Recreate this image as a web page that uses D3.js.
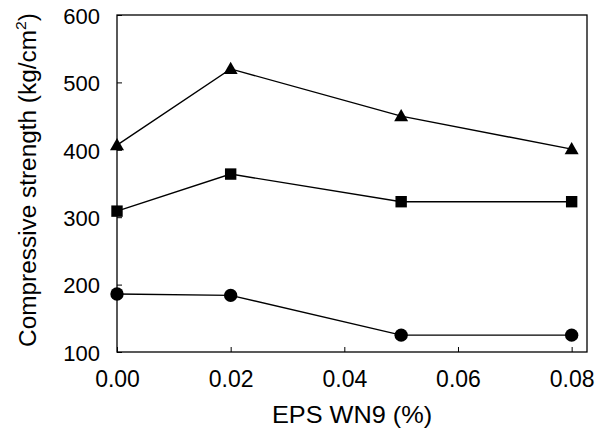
<!DOCTYPE html>
<html>
<head>
<meta charset="utf-8">
<script src="https://cdn.jsdelivr.net/npm/d3@7"></script>
<style>
  body { margin: 0; background: #fff; }
  text { font-family: "Liberation Sans", Arial, sans-serif; fill: #000; }
</style>
</head>
<body>
<script>
const w = 602;
const h = 430;
const margin = {left: 117, right: 15, top: 15, bottom: 78};

// data
const xValues = [0.00, 0.02, 0.05, 0.08];
const triangleSeries = [407, 520, 450, 401];
const squareSeries = [309, 364, 323, 323];
const circleSeries = [186, 184, 125, 125];
const xTicks = [0.00, 0.02, 0.04, 0.06, 0.08];
const yTicks = [100, 200, 300, 400, 500, 600];

var svg = d3.select("body")
            .append("svg")
            .attr("width", w)
            .attr("height", h);

const xScale = d3.scaleLinear()
                 .domain([0, 0.0827])
                 .range([margin.left, w - margin.right]);

const yScale = d3.scaleLinear()
                 .domain([100, 600])
                 .range([h - margin.bottom, margin.top]);

const chart = svg.append("g");

// frame
chart.append("rect")
     .attr("x", margin.left)
     .attr("y", margin.top)
     .attr("width", w - margin.right - margin.left)
     .attr("height", h - margin.bottom - margin.top)
     .attr("fill", "none")
     .attr("stroke", "#000")
     .attr("stroke-width", 1.3);

const xAxis = d3.axisBottom(xScale)
                .tickValues(xTicks)
                .tickSizeInner(-5)
                .tickSizeOuter(0)
                .tickPadding(19)
                .tickFormat(d3.format(".2f"));

const yAxis = d3.axisLeft(yScale)
                .tickValues(yTicks)
                .tickSizeInner(-5)
                .tickSizeOuter(0)
                .tickPadding(17)
                .tickFormat(d3.format("d"));

const gx = chart.append("g")
     .attr("transform", "translate(0," + (h - margin.bottom) + ")")
     .call(xAxis);

const gy = chart.append("g")
     .attr("transform", "translate(" + margin.left + ",0)")
     .call(yAxis);

[gx, gy].forEach(g => {
  g.select(".domain").remove();
  g.selectAll(".tick line").attr("stroke", "#000").attr("stroke-width", 1);
  g.selectAll(".tick text").attr("font-family", "Liberation Sans, Arial, sans-serif");
});

gx.selectAll(".tick text").attr("font-size", 23);
gy.selectAll(".tick text").attr("font-size", 22).attr("dy", "0.38em");

const line = d3.line()
               .x((d, i) => xScale(xValues[i]))
               .y(d => yScale(d));

[triangleSeries, squareSeries, circleSeries].forEach(s => {
  chart.append("path")
       .datum(s)
       .attr("d", line)
       .attr("fill", "none")
       .attr("stroke", "#000")
       .attr("stroke-width", 1.4);
});

const triangle = d3.symbol().type(d3.symbolTriangle).size(85);
const square = d3.symbol().type(d3.symbolSquare).size(130);
const circle = d3.symbol().type(d3.symbolCircle).size(140);

chart.selectAll(".tri")
     .data(triangleSeries)
     .enter()
     .append("path")
     .attr("class", "tri")
     .attr("d", triangle)
     .attr("transform", (d, i) => "translate(" + xScale(xValues[i]) + "," + (yScale(d) + 1) + ")")
     .attr("fill", "#000");

chart.selectAll(".sq")
     .data(squareSeries)
     .enter()
     .append("path")
     .attr("class", "sq")
     .attr("d", square)
     .attr("transform", (d, i) => "translate(" + xScale(xValues[i]) + "," + yScale(d) + ")")
     .attr("fill", "#000");

chart.selectAll(".dot")
     .data(circleSeries)
     .enter()
     .append("path")
     .attr("class", "dot")
     .attr("d", circle)
     .attr("transform", (d, i) => "translate(" + xScale(xValues[i]) + "," + yScale(d) + ")")
     .attr("fill", "#000");

// axis titles
chart.append("text")
     .attr("transform", "translate(352,423) scale(1.1,1)")
     .attr("text-anchor", "middle")
     .attr("font-size", 23)
     .text("EPS WN9 (%)");

const yTitle = chart.append("text")
     .attr("transform", "translate(36,180) rotate(-90) scale(1.06,1)")
     .attr("text-anchor", "middle")
     .attr("font-size", 23);
yTitle.append("tspan").text("Compressive strength (kg/cm");
yTitle.append("tspan").attr("font-size", 15).attr("dy", -10).text("2");
yTitle.append("tspan").attr("dy", 10).text(")");
</script>
</body>
</html>
